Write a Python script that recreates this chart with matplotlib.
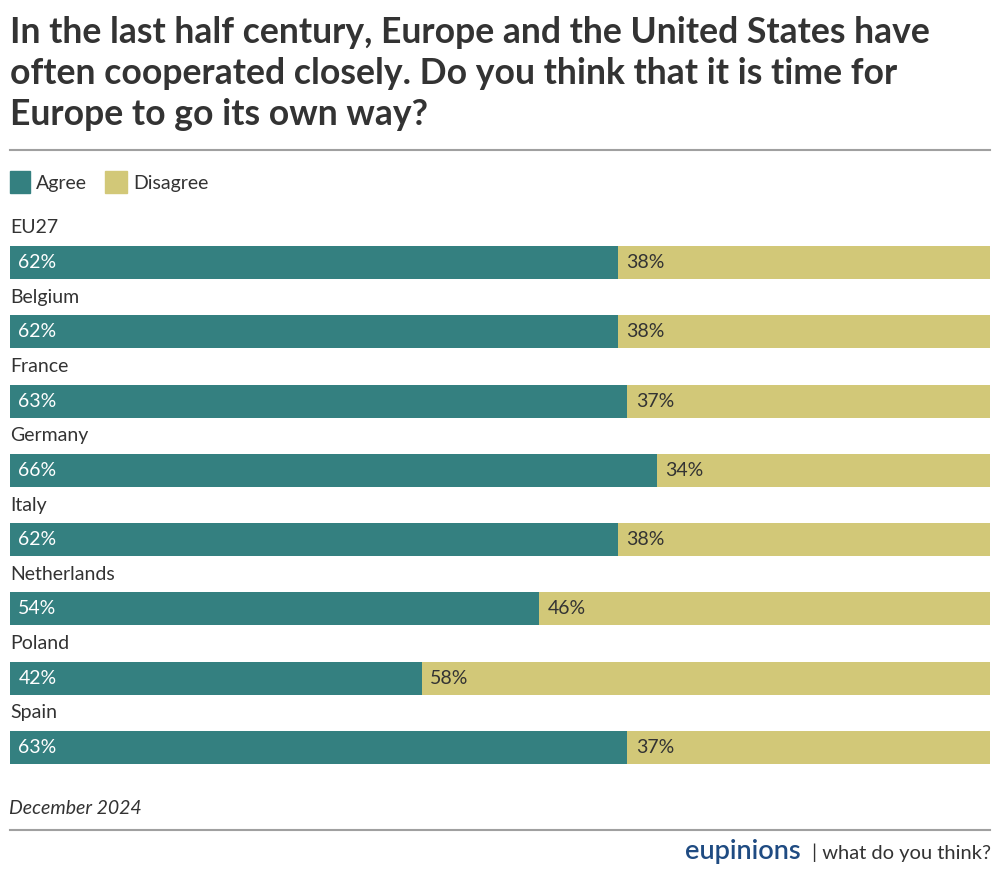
import matplotlib.pyplot as plt
from matplotlib.patches import Rectangle
from matplotlib.lines import Line2D

countries = ['EU27', 'Belgium', 'France', 'Germany', 'Italy', 'Netherlands', 'Poland', 'Spain']
agree = [62, 62, 63, 66, 62, 54, 42, 63]
disagree = [38, 38, 37, 34, 38, 46, 58, 37]

TEAL = '#348080'
SAND = '#d2c878'
W, H = 1000, 877

plt.rcParams['font.family'] = ['Lato', 'DejaVu Sans']

fig = plt.figure(figsize=(W / 100, H / 100), dpi=100)


def fx(x):
    return x / W


def fy(y):
    return 1 - y / H


# title
fig.text(fx(10), fy(16), 'In the last half century, Europe and the United States have\n'
         'often cooperated closely. Do you think that it is time for\n'
         'Europe to go its own way?', fontsize=25.6, fontweight='bold',
         color='#333333', va='top', ha='left', linespacing=1.3)

fig.add_artist(Line2D([fx(10), fx(990)], [fy(150), fy(150)], color='#a0a0a0', lw=1.5))
fig.add_artist(Line2D([fx(10), fx(990)], [fy(830), fy(830)], color='#a0a0a0', lw=1.5))

# legend
fig.add_artist(Rectangle((fx(10), fy(193)), fx(20), 22 / H, color=TEAL, transform=fig.transFigure))
fig.text(fx(36), fy(183), 'Agree', fontsize=14, color='#333333', va='center')
fig.add_artist(Rectangle((fx(105), fy(193)), fx(22), 22 / H, color=SAND, transform=fig.transFigure))
fig.text(fx(133), fy(183), 'Disagree', fontsize=14, color='#333333', va='center')

# bars
ax = fig.add_axes([fx(10), fy(780), fx(980), (780 - 210) / H])
y = list(range(len(countries)))
ax.barh(y, agree, height=0.476, color=TEAL)
ax.barh(y, disagree, left=agree, height=0.476, color=SAND)
ax.set_xlim(0, 100)
ax.set_ylim(7.469, -0.758)
ax.axis('off')

for i, c in enumerate(countries):
    ax.text(0, i - 0.5, c, fontsize=14, color='#333333', va='center', ha='left')
    ax.text(0.85, i, f'{agree[i]}%', fontsize=14, color='white', va='center', ha='left')
    ax.text(agree[i] + 0.85, i, f'{disagree[i]}%', fontsize=14, color='#333333',
            va='center', ha='left')

# footer
fig.text(fx(9), fy(809), 'December 2024', fontsize=14, style='italic', color='#333333',
         va='center')
fig.text(fx(801), fy(851), 'eupinions', fontsize=19.5, fontweight='semibold', color='#1f4b82',
         va='center', ha='right')
fig.text(fx(991), fy(853), '| what do you think?', fontsize=14.5, color='#333333',
         va='center', ha='right')

fig.savefig('out.png', dpi=100)
